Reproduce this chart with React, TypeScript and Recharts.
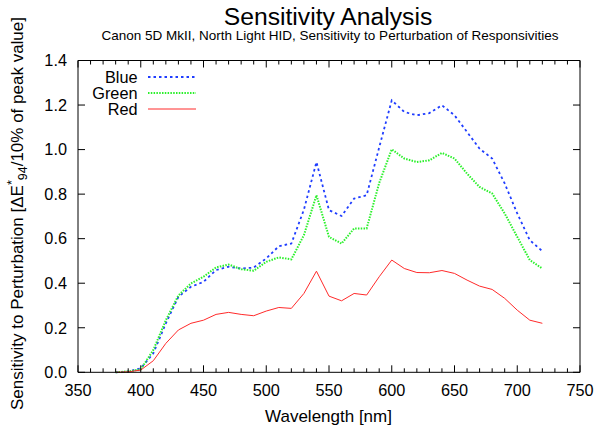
import React from 'react';
import { LineChart, Line, XAxis, YAxis, Legend } from 'recharts';

const wavelengths = [380, 390, 400, 410, 420, 430, 440, 450, 460, 470, 480, 490, 500, 510, 520, 530, 540, 550, 560, 570, 580, 590, 600, 610, 620, 630, 640, 650, 660, 670, 680, 690, 700, 710, 720];
const blueValues = [0.0, 0.003, 0.018, 0.085, 0.22, 0.339, 0.384, 0.406, 0.459, 0.474, 0.466, 0.47, 0.511, 0.566, 0.578, 0.73, 0.944, 0.728, 0.702, 0.78, 0.795, 1.01, 1.221, 1.169, 1.154, 1.164, 1.199, 1.154, 1.079, 1.004, 0.96, 0.848, 0.713, 0.593, 0.544];
const greenValues = [0.0, 0.004, 0.013, 0.1, 0.234, 0.345, 0.399, 0.429, 0.471, 0.484, 0.463, 0.456, 0.496, 0.516, 0.507, 0.616, 0.795, 0.608, 0.578, 0.646, 0.646, 0.85, 1.001, 0.96, 0.944, 0.952, 0.985, 0.96, 0.892, 0.832, 0.803, 0.713, 0.608, 0.504, 0.466];
const redValues = [0.0, 0.002, 0.01, 0.052, 0.13, 0.19, 0.22, 0.234, 0.26, 0.269, 0.26, 0.254, 0.275, 0.291, 0.287, 0.354, 0.454, 0.342, 0.321, 0.354, 0.347, 0.429, 0.504, 0.466, 0.448, 0.447, 0.457, 0.444, 0.414, 0.387, 0.372, 0.332, 0.279, 0.234, 0.22];

const xTicks = [350, 360, 370, 380, 390, 400, 410, 420, 430, 440, 450, 460, 470, 480, 490, 500, 510, 520, 530, 540, 550, 560, 570, 580, 590, 600, 610, 620, 630, 640, 650, 660, 670, 680, 690, 700, 710, 720, 730, 740, 750];
const xMajorTicks = [350, 400, 450, 500, 550, 600, 650, 700, 750];
const yTicks = [0, 0.2, 0.4, 0.6, 0.8, 1.0, 1.2, 1.4];

const FONT = '"Liberation Sans", Arial, Helvetica, sans-serif';

const seriesDefs = [
  { key: 'blue', name: 'Blue', color: '#1f3dff', dash: '2.5 3', width: 1.8 },
  { key: 'green', name: 'Green', color: '#2bf02b', dash: '1.5 1.3', width: 2 },
  { key: 'red', name: 'Red', color: '#ff2a2a', dash: undefined as string | undefined, width: 1 },
];

const data = wavelengths.map((w, i) => ({
  wl: w,
  blue: blueValues[i],
  green: greenValues[i],
  red: redValues[i],
}));

const isMajorX = (v: number) => xMajorTicks.indexOf(v) >= 0;

const BottomTick = (props: any) => {
  const { x, y, payload } = props;
  const major = isMajorX(payload.value);
  return (
    <g>
      <line x1={x} x2={x} y1={y} y2={y - (major ? 7 : 4)} stroke="#000" strokeWidth={1} />
      {major && (
        <text x={x} y={y + 23.8} textAnchor="middle" fontSize={16.3} fontFamily={FONT} fill="#000">
          {payload.value}
        </text>
      )}
    </g>
  );
};

const TopTick = (props: any) => {
  const { x, y, payload } = props;
  const major = isMajorX(payload.value);
  return <line x1={x} x2={x} y1={y} y2={y + (major ? 7 : 4)} stroke="#000" strokeWidth={1} />;
};

const LeftTick = (props: any) => {
  const { x, y, payload } = props;
  return (
    <g>
      <line x1={x} x2={x + 7} y1={y} y2={y} stroke="#000" strokeWidth={1} />
      <text x={x - 11} y={y + 5.8} textAnchor="end" fontSize={16.3} fontFamily={FONT} fill="#000">
        {Number(payload.value).toFixed(1)}
      </text>
    </g>
  );
};

const RightTick = (props: any) => {
  const { x, y } = props;
  return <line x1={x} x2={x - 7} y1={y} y2={y} stroke="#000" strokeWidth={1} />;
};

const YLabel = () => (
  <text
    x={22.5}
    y={213.5}
    transform="rotate(-90 22.5 213.5)"
    textAnchor="middle"
    fontSize={17}
    fontFamily={FONT}
    fill="#000"
  >
    <tspan>Sensitivity to Perturbation [ΔE</tspan>
    <tspan dy={-6.5} fontSize={12.5}>*</tspan>
    <tspan dy={10.5} fontSize={12.5}>94</tspan>
    <tspan dy={-4}>/10% of peak value]</tspan>
  </text>
);

const XLabel = () => (
  <text x={328.5} y={422} textAnchor="middle" fontSize={17} fontFamily={FONT} fill="#000">
    Wavelength [nm]
  </text>
);

const renderLegend = () => (
  <svg width={200} height={60} style={{ display: 'block' }}>
    {seriesDefs.map((s, i) => {
      const cy = 12 + i * 16;
      return (
        <g key={s.key}>
          <text x={137.5} y={cy + 5.7} textAnchor="end" fontSize={16.3} fontFamily={FONT} fill="#000">
            {s.name}
          </text>
          <line x1={148} x2={196} y1={cy} y2={cy} stroke={s.color} strokeWidth={s.width} strokeDasharray={s.dash} />
        </g>
      );
    })}
  </svg>
);

export default function App() {
  return (
    <div style={{ position: 'absolute', left: 0, top: 0, width: 597, height: 427, background: '#fff' }}>
      <LineChart width={597} height={427} data={data} margin={{ top: 59.5, right: 0, bottom: 24.7, left: 0 }}>
        <text x={328} y={25} textAnchor="middle" fontSize={24.7} fontFamily={FONT} fill="#000">
          Sensitivity Analysis
        </text>
        <text x={330} y={39.5} textAnchor="middle" fontSize={13.5} fontFamily={FONT} fill="#000">
          Canon 5D MkII, North Light HID, Sensitivity to Perturbation of Responsivities
        </text>
        <XAxis
          xAxisId="bottom"
          dataKey="wl"
          type="number"
          domain={[350, 750]}
          ticks={xTicks}
          interval={0}
          height={30}
          tickSize={0}
          tickMargin={0}
          tickLine={false}
          axisLine={{ stroke: '#000' }}
          tick={<BottomTick />}
          label={<XLabel />}
        />
        <XAxis
          xAxisId="top"
          orientation="top"
          dataKey="wl"
          type="number"
          domain={[350, 750]}
          ticks={xTicks}
          interval={0}
          height={1}
          tickSize={0}
          tickMargin={0}
          tickLine={false}
          axisLine={{ stroke: '#000' }}
          tick={<TopTick />}
        />
        <YAxis
          yAxisId="left"
          type="number"
          domain={[0, 1.4]}
          ticks={yTicks}
          interval={0}
          width={78}
          tickSize={0}
          tickMargin={0}
          tickLine={false}
          axisLine={{ stroke: '#000' }}
          tick={<LeftTick />}
          label={<YLabel />}
        />
        <YAxis
          yAxisId="right"
          orientation="right"
          type="number"
          domain={[0, 1.4]}
          ticks={yTicks}
          interval={0}
          width={17}
          tickSize={0}
          tickMargin={0}
          tickLine={false}
          axisLine={{ stroke: '#000' }}
          tick={<RightTick />}
        />
        <Legend
          layout="horizontal"
          verticalAlign="middle"
          align="center"
          content={renderLegend}
          wrapperStyle={{ position: 'absolute', left: 0, top: 65, width: 200, height: 60 }}
        />
        {seriesDefs.map((s) => (
          <Line
            key={s.key}
            xAxisId="bottom"
            yAxisId="left"
            type="linear"
            dataKey={s.key}
            name={s.name}
            stroke={s.color}
            strokeWidth={s.width}
            strokeDasharray={s.dash}
            dot={false}
            activeDot={false}
            isAnimationActive={false}
          />
        ))}
        <Line
          xAxisId="top"
          yAxisId="right"
          type="linear"
          dataKey="red"
          stroke="none"
          dot={false}
          activeDot={false}
          legendType="none"
          isAnimationActive={false}
        />
      </LineChart>
    </div>
  );
}
